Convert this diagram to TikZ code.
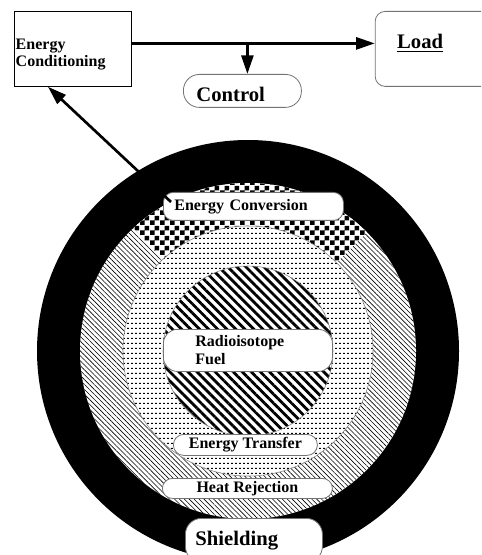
\documentclass[tikz,border=0pt]{standalone}
\usepackage{fontspec}
\setmainfont{Liberation Serif}
\usetikzlibrary{positioning,arrows.meta,patterns,patterns.meta}

% checker squares for the conversion sector
\pgfdeclarepattern{name=chk, type=uncolored,
  bottom left={\pgfpoint{0pt}{0pt}}, top right={\pgfpoint{7.5pt}{7.5pt}},
  tile size={\pgfpoint{7.5pt}{7.5pt}},
  code={\pgfpathrectangle{\pgfpoint{0pt}{0pt}}{\pgfpoint{3.75pt}{3.75pt}}
        \pgfpathrectangle{\pgfpoint{3.75pt}{3.75pt}}{\pgfpoint{3.75pt}{3.75pt}}
        \pgfusepath{fill}}}
% rows of short dashes for the transfer ring
\pgfdeclarepattern{name=dashrow, type=uncolored,
  bottom left={\pgfpoint{0pt}{0pt}}, top right={\pgfpoint{3.2pt}{3.6pt}},
  tile size={\pgfpoint{3.2pt}{3.6pt}},
  code={\pgfpathrectangle{\pgfpoint{0pt}{0pt}}{\pgfpoint{1.6pt}{0.8pt}}
        \pgfusepath{fill}}}

\begin{document}
\begin{tikzpicture}[
  x=0.75pt, y=-0.75pt,
  flow/.style={line width=2pt, -{Triangle[length=14pt,width=9pt]}},
  box/.style={draw, line width=0.6pt, inner ysep=0pt, align=left,
              font=\bfseries\fontsize{12}{12.75}\selectfont},
  pill/.style={draw=black!55, line width=0.6pt, fill=white, inner ysep=0pt,
               font=\bfseries\fontsize{12}{13.5}\selectfont},
  bigtext/.style={font=\bfseries\fontsize{15.5}{17}\selectfont},
  heatrej/.style={preaction={fill=white},
                  pattern={Lines[angle=-45,distance=2.6pt,line width=0.45pt]}},
  conver/.style={preaction={fill=white}, pattern=chk},
  xfer/.style={preaction={fill=white}, pattern=dashrow, draw=black!50, line width=0.4pt},
  fuelarea/.style={preaction={fill=white}, draw=black!50, line width=0.4pt,
                   pattern={Lines[angle=-45,distance=4.8pt,line width=2.1pt]}},
]
\useasboundingbox (0,0) rectangle (481,555);
\clip (0,0) rectangle (481,555);

% ==================== top row ====================
\node[box, anchor=north west, minimum width=87.75pt, minimum height=56.25pt,
      text width=85.75pt, inner xsep=1pt, text height=16pt, text depth=15.3pt]
   (cond) at (14,11) {Energy\\Conditioning};
\node[box, bigtext, draw=black!55, rounded corners=7.5pt, right=182.25pt of cond,
      minimum width=90pt, minimum height=56.25pt, text width=57pt, inner xsep=16.5pt,
      text height=11pt, text depth=11pt]
   (load) {\underline{Load}};
\node[pill, bigtext, anchor=north west, rounded corners=12pt, align=left,
      minimum width=88.5pt, minimum height=24.75pt, text width=69pt, inner xsep=9.75pt,
      text height=16pt, text depth=0pt]
   (ctrl) at (183,74) {Control};

% ==================== nested rings ====================
\coordinate (core) at (248,351);
\fill[black] (core) circle[radius=158.25pt];
\path[heatrej] (core) circle[radius=126pt];
\begin{scope}
  \clip (core) -- ([shift={(45:200pt)}]core) -- ([shift={(89:200pt)}]core)
        -- ([shift={(133:200pt)}]core) -- cycle;
  \path[conver] (core) circle[radius=126pt];
\end{scope}
\path[xfer] (core) circle[radius=93.75pt];
\path[fuelarea] (core) circle[radius=63.75pt];

% ==================== ring labels ====================
\node[pill, anchor=north west, rounded corners=7.5pt, align=left,
      minimum width=135pt, minimum height=21pt, text width=118.5pt, inner xsep=8.25pt]
   (conv) at (163,192) {Energy Conversion};
\node[pill, anchor=north west, rounded corners=10.5pt, align=left,
      minimum width=126.75pt, minimum height=31.5pt, text width=78.75pt, inner xsep=24pt]
   (fuel) at (163,329) {Radioisotope\\Fuel};
\node[pill, anchor=north west, rounded corners=7.8pt, align=center,
      minimum width=108pt, minimum height=15.75pt, inner xsep=0pt]
   (xfer) at (173,434) {Energy Transfer};
\node[pill, anchor=north west, rounded corners=7.5pt, align=center,
      minimum width=127.5pt, minimum height=15pt, inner xsep=0pt]
   (heat) at (162,478) {Heat Rejection};
\node[pill, bigtext, anchor=north west, rounded corners=12pt, align=left,
      minimum width=102.75pt, minimum height=33pt, text width=87.75pt, inner xsep=7.5pt]
   (shield) at (185,518) {Shielding};

% ==================== power flow ====================
\draw[flow] ([shift={(0,-5.5)}]cond.east) -- ([shift={(0,-5.5)}]load.west);
\draw[flow] (ctrl.north |- cond.east) ++(5,-5.5) -- ([xshift=3.75pt]ctrl.north);
\draw[flow] ([shift={(8,10)}]conv.north west) -- ([shift={(34,0)}]cond.south west);

\end{tikzpicture}
\end{document}
